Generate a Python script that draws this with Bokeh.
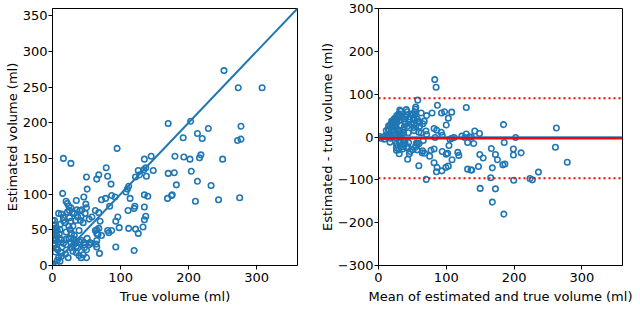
from bokeh.plotting import figure
from bokeh.layouts import row
from bokeh.models import Range1d, FixedTicker, Slope, Span, ColumnDataSource
from bokeh.embed import file_html
from bokeh.resources import INLINE
import numpy as np

# (true, estimated) volumes in ml
true_volume = [252, 273, 308, 170, 203, 229, 277, 192, 213, 220, 272, 277, 95, 16, 27,
               145, 135, 180, 193, 202, 218, 216, 250, 79, 137, 134, 126, 148, 170, 179,
               204, 50, 68, 65, 81, 122, 128, 138, 86, 182, 213, 233, 51, 15, 112,
               110, 108, 114, 135, 140, 175, 176, 169, 210, 244, 275, 87, 92, 72, 78,
               46, 35, 20, 22, 49, 50, 84, 135, 120, 121, 111, 137, 96, 135, 93,
               63, 42, 70, 58, 54, 40, 36, 43, 24, 27, 25, 9, 13, 16, 16,
               3, 25, 27, 34, 41, 45, 24, 26, 39, 63, 65, 67, 72, 68, 65,
               81, 83, 87, 98, 112, 122, 126, 133, 51, 65, 57, 54, 46, 40, 47,
               35, 31, 27, 27, 20, 16, 13, 20, 24, 27, 31, 34, 37, 50, 65,
               64, 55, 93, 120, 69, 39, 42, 45, 50, 23, 19, 13, 13, 9, 7,
               11, 5, 1, 5, 4, 3, 3, 6, 10, 7, 11, 6, 2, 3, 4,
               8, 14, 10, 43, 28, 32, 20, 29, 32, 37, 48, 2, 4, 8, 1,
               5, 2, 22, 18, 12, 30, 35, 30, 47, 68, 0]
estimated_volume = [273, 249, 249, 199, 202, 192, 195, 179, 185, 178, 175, 177, 164, 150, 143,
                    153, 149, 153, 152, 149, 155, 151, 149, 137, 137, 134, 133, 133, 129, 130,
                    132, 124, 127, 121, 125, 124, 127, 125, 114, 113, 118, 112, 107, 101, 111,
                    107, 103, 94, 99, 97, 98, 99, 94, 90, 92, 95, 98, 96, 92, 94,
                    96, 91, 90, 87, 86, 81, 83, 82, 80, 83, 77, 69, 68, 64, 62,
                    77, 69, 62, 68, 65, 77, 78, 78, 83, 81, 77, 73, 72, 67, 63,
                    63, 67, 62, 63, 63, 60, 55, 50, 49, 49, 45, 43, 42, 52, 50,
                    49, 46, 49, 53, 52, 51, 45, 54, 38, 35, 31, 29, 32, 33, 29,
                    27, 29, 25, 32, 29, 31, 36, 37, 38, 38, 37, 32, 25, 22, 26,
                    30, 32, 26, 21, 17, 14, 11, 15, 11, 11, 16, 18, 13, 11, 7,
                    6, 2, 2, 24, 30, 36, 42, 42, 44, 49, 50, 53, 45, 57, 19,
                    22, 26, 38, 35, 45, 42, 47, 74, 73, 68, 73, 28, 48, 33, 38,
                    35, 52, 75, 60, 58, 55, 18, 20, 25, 74, 63]

# Bland-Altman summary lines (ml)
mean_difference = -3.0
upper_limit = 90.5
lower_limit = -96.5

t = np.array(true_volume, dtype=float)
e = np.array(estimated_volume, dtype=float)
src_left = ColumnDataSource(dict(x=t, y=e))
src_right = ColumnDataSource(dict(x=(t + e) / 2.0, y=e - t))

BLUE = "#1f77b4"
FONT = "DejaVu Sans"


def style(p, xticks, yticks, overrides=None):
    p.outline_line_color = "black"
    p.outline_line_width = 1
    p.grid.visible = False
    p.background_fill_color = "white"
    p.border_fill_color = "white"
    for ax in (p.xaxis[0], p.yaxis[0]):
        ax.axis_line_color = "black"
        ax.major_tick_line_color = "black"
        ax.major_tick_in = 0
        ax.major_tick_out = 4
        ax.minor_tick_line_color = None
        ax.major_label_text_font = FONT
        ax.major_label_text_font_size = "13px"
        ax.major_label_text_color = "black"
        ax.axis_label_text_font = FONT
        ax.axis_label_text_font_size = "13px"
        ax.axis_label_text_font_style = "normal"
        ax.axis_label_text_color = "black"
    p.xaxis[0].major_label_standoff = 3
    p.xaxis[0].axis_label_standoff = 4
    p.yaxis[0].major_label_standoff = 1
    p.yaxis[0].axis_label_standoff = 0
    p.xaxis[0].ticker = FixedTicker(ticks=xticks)
    p.yaxis[0].ticker = FixedTicker(ticks=yticks)
    if overrides:
        p.yaxis[0].major_label_overrides = overrides


p1 = figure(frame_width=245, frame_height=257, output_backend="svg", toolbar_location=None,
            x_range=Range1d(0, 360), y_range=Range1d(0, 360),
            min_border_left=52, min_border_right=10, min_border_top=8, min_border_bottom=71,
            x_axis_label="True volume (ml)", y_axis_label="Estimated volume (ml)")
style(p1, [0, 100, 200, 300], [0, 50, 100, 150, 200, 250, 300, 350])
p1.add_layout(Slope(gradient=1, y_intercept=0, line_color=BLUE, line_width=2))
p1.scatter("x", "y", source=src_left, size=5.5, fill_color=None, line_color=BLUE, line_width=1.6)

p2 = figure(frame_width=244, frame_height=257, output_backend="svg", toolbar_location=None,
            x_range=Range1d(0, 360), y_range=Range1d(-300, 300),
            min_border_left=71, min_border_right=18, min_border_top=8, min_border_bottom=71,
            x_axis_label="Mean of estimated and true volume (ml)",
            y_axis_label="Estimated - true volume (ml)")
style(p2, [0, 100, 200, 300], [-300, -200, -100, 0, 100, 200, 300],
      {-300: "\u2212300", -200: "\u2212200", -100: "\u2212100"})
p2.scatter("x", "y", source=src_right, size=5.5, fill_color=None, line_color=BLUE, line_width=1.6)
p2.add_layout(Span(location=0, dimension="width", line_color=BLUE, line_width=2, line_alpha=0.7))
p2.add_layout(Span(location=mean_difference, dimension="width", line_color="red", line_width=2.5))
p2.add_layout(Span(location=upper_limit, dimension="width", line_color="red", line_width=2,
                   line_dash="2 3"))
p2.add_layout(Span(location=lower_limit, dimension="width", line_color="red", line_width=2,
                   line_dash="2 3"))

layout = row(p1, p2)
open("out.html", "w").write(file_html(layout, INLINE))
